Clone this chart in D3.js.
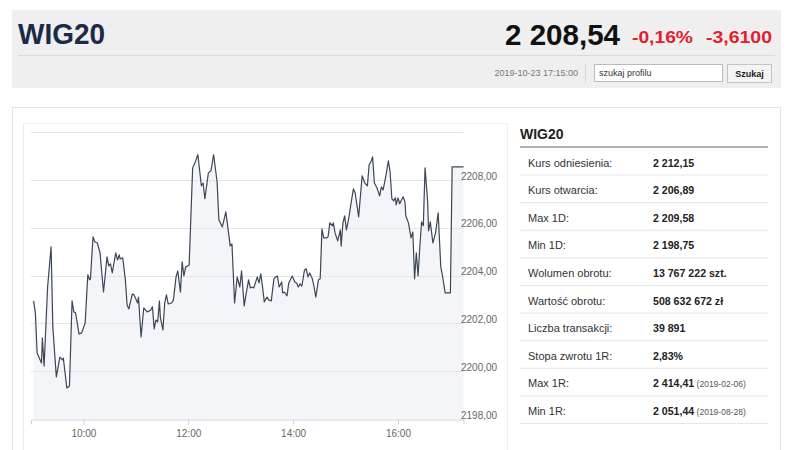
<!DOCTYPE html>
<html>
<head>
<meta charset="utf-8" />
<title>WIG20</title>
<script src="https://cdn.jsdelivr.net/npm/d3@7"></script>
<style>
  body { margin: 0; background: #fff; }
  svg { display: block; font-family: "Liberation Sans", Arial, sans-serif; }
  .axis text { font-size: 10px; fill: #666; }
</style>
</head>
<body>
<script>
// notowania WIG20, 2019-10-23
var times = ["09:03","09:05","09:07","09:12","09:13","09:15","09:19","09:23","09:25","09:29",
  "09:33","09:36","09:37","09:41","09:44","09:47","09:49","09:51","09:55","09:58",
  "10:02","10:05","10:07","10:08","10:11","10:13","10:16","10:19","10:23","10:27",
  "10:29","10:31","10:33","10:37","10:39","10:41","10:42","10:45","10:48","10:50",
  "10:52","10:56","10:58","11:02","11:03","11:06","11:09","11:13","11:17","11:19",
  "11:21","11:23","11:25","11:27","11:28","11:31","11:33","11:35","11:37","11:41",
  "11:43","11:46","11:48","11:51","11:53","11:55","11:57","12:01","12:05","12:08",
  "12:11","12:15","12:17","12:19","12:23","12:26","12:29","12:33","12:35","12:39",
  "12:43","12:48","12:50","12:53","12:56","12:59","13:01","13:04","13:06","13:09",
  "13:11","13:13","13:15","13:19","13:21","13:23","13:25","13:27","13:30","13:32",
  "13:35","13:38","13:40","13:42","13:44","13:47","13:48","13:50","13:53","13:55",
  "13:59","14:02","14:04","14:06","14:08","14:10","14:13","14:15","14:17","14:19",
  "14:22","14:24","14:26","14:29","14:31","14:33","14:35","14:38","14:40","14:42",
  "14:45","14:46","14:48","14:51","14:54","14:55","14:57","14:59","15:01","15:04",
  "15:06","15:09","15:11","15:15","15:19","15:22","15:25","15:27","15:29","15:31",
  "15:33","15:36","15:39","15:41","15:43","15:46","15:49","15:51","15:53","15:55",
  "15:57","15:58","16:00","16:02","16:04","16:06","16:08","16:09","16:12","16:15",
  "16:17","16:19","16:21","16:23","16:25","16:27","16:29","16:31","16:34","16:35",
  "16:37","16:40","16:43","16:46","16:49","16:51","16:54","17:00","17:02","17:15"];

var values = [2202.94,2202.44,2200.76,2200.34,2201.39,2200.22,2203.52,2205.20,2201.85,2199.76,
  2200.59,2200.47,2200.55,2199.30,2199.38,2202.94,2202.48,2202.44,2201.56,2201.60,
  2202.02,2204.03,2203.82,2203.86,2205.62,2205.41,2205.36,2204.95,2203.31,2204.78,
  2204.40,2204.49,2204.11,2204.95,2204.65,2204.86,2204.69,2204.74,2203.82,2202.77,
  2202.60,2203.23,2203.19,2202.85,2203.10,2201.43,2202.64,2202.48,2202.56,2202.69,
  2201.77,2202.14,2202.06,2202.94,2202.27,2201.72,2202.85,2203.19,2202.81,2202.85,
  2202.98,2203.94,2204.19,2203.31,2204.57,2203.98,2204.36,2204.44,2208.50,2208.75,
  2209.05,2207.75,2207.87,2207.21,2208.29,2208.38,2209.05,2207.92,2206.33,2206.03,
  2206.66,2205.24,2205.32,2202.85,2203.94,2203.52,2204.19,2202.73,2203.19,2203.82,
  2203.48,2203.52,2203.48,2203.94,2203.69,2204.07,2203.52,2202.90,2203.10,2202.98,
  2202.94,2203.86,2203.94,2203.98,2203.52,2203.73,2203.27,2203.31,2203.15,2203.69,
  2203.98,2203.73,2203.69,2203.52,2203.65,2203.56,2204.23,2204.28,2203.94,2204.11,
  2203.86,2203.52,2203.10,2203.82,2203.86,2205.95,2205.57,2205.57,2205.62,2206.20,
  2206.08,2206.20,2205.78,2205.45,2205.91,2205.24,2206.20,2206.49,2205.91,2206.45,
  2206.95,2207.62,2207.46,2206.45,2208.17,2207.87,2207.75,2208.63,2208.75,2208.96,
  2207.87,2207.67,2207.33,2207.71,2207.58,2208.13,2208.79,2208.33,2207.21,2207.12,
  2207.25,2206.95,2207.25,2207.00,2207.16,2207.29,2207.08,2206.49,2206.20,2205.57,
  2205.82,2203.86,2204.95,2203.98,2205.20,2206.24,2206.08,2208.50,2207.08,2205.87,
  2206.24,2205.36,2205.78,2206.62,2204.36,2203.98,2203.27,2203.27,2208.54,2208.54];

var yTicks = [2198, 2200, 2202, 2204, 2206, 2208];
var xTicks = ["10:00", "12:00", "14:00", "16:00"];

var statLabels = ["Kurs odniesienia:", "Kurs otwarcia:", "Max 1D:", "Min 1D:", "Wolumen obrotu:",
  "Wartość obrotu:", "Liczba transakcji:", "Stopa zwrotu 1R:", "Max 1R:", "Min 1R:"];
var statValues = ["2 212,15", "2 206,89", "2 209,58", "2 198,75", "13 767 222 szt.",
  "508 632 672 zł", "39 891", "2,83%", "2 414,41", "2 051,44"];
var statDates = ["", "", "", "", "", "", "", "", "(2019-02-06)", "(2019-08-28)"];

var parseTime = d3.timeParse("%H:%M");
var data = times.map(function(t, i) { return { t: parseTime(t), v: values[i] }; });

var svg = d3.select("body").append("svg")
    .attr("width", 786)
    .attr("height", 450);

// ---- naglowek ----
svg.append("rect").attr("x", 12).attr("y", 10).attr("width", 769).attr("height", 78).attr("fill", "#efefef");
svg.append("line").attr("x1", 18).attr("x2", 775).attr("y1", 55.5).attr("y2", 55.5).attr("stroke", "#d9d9d9");

svg.append("text").attr("x", 18).attr("y", 44)
    .attr("font-size", 29).attr("font-weight", "bold").attr("fill", "#1b2a47")
    .attr("textLength", 87).attr("lengthAdjust", "spacingAndGlyphs")
    .text("WIG20");

svg.append("text").attr("x", 620).attr("y", 45).attr("text-anchor", "end")
    .attr("font-size", 29).attr("font-weight", "bold").attr("fill", "#111")
    .attr("textLength", 115).attr("lengthAdjust", "spacingAndGlyphs")
    .text("2 208,54");
svg.append("text").attr("x", 632).attr("y", 43)
    .attr("font-size", 17).attr("font-weight", "bold").attr("fill", "#e2202b")
    .attr("textLength", 61).attr("lengthAdjust", "spacingAndGlyphs")
    .text("-0,16%");
svg.append("text").attr("x", 706).attr("y", 43)
    .attr("font-size", 17).attr("font-weight", "bold").attr("fill", "#e2202b")
    .attr("textLength", 66).attr("lengthAdjust", "spacingAndGlyphs")
    .text("-3,6100");

svg.append("text").attr("x", 578).attr("y", 76).attr("text-anchor", "end")
    .attr("font-size", 9).attr("fill", "#777").text("2019-10-23 17:15:00");
svg.append("line").attr("x1", 585.5).attr("x2", 585.5).attr("y1", 64).attr("y2", 83).attr("stroke", "#d6d6d6");
svg.append("rect").attr("x", 594.5).attr("y", 64.5).attr("width", 128).attr("height", 17)
    .attr("fill", "#fff").attr("stroke", "#bbb");
svg.append("text").attr("x", 599).attr("y", 76).attr("font-size", 9).attr("fill", "#333").text("szukaj profilu");
svg.append("rect").attr("x", 727.5).attr("y", 64.5).attr("width", 44).attr("height", 18)
    .attr("fill", "#f4f4f4").attr("stroke", "#c4c4c4");
svg.append("text").attr("x", 749.5).attr("y", 77).attr("text-anchor", "middle")
    .attr("font-size", 9).attr("font-weight", "bold").attr("fill", "#222").text("Szukaj");

// ---- karta ----
svg.append("rect").attr("x", 12.5).attr("y", 107.5).attr("width", 768).attr("height", 360)
    .attr("fill", "#fff").attr("stroke", "#e4e4e4");
svg.append("rect").attr("x", 23.5).attr("y", 123.5).attr("width", 484).attr("height", 340)
    .attr("fill", "none").attr("stroke", "#eeeeee");

// ---- wykres ----
var x = d3.scaleTime()
    .domain([parseTime("09:00"), parseTime("17:15")])
    .range([31, 463.5]);
var y = d3.scaleLinear()
    .domain([2198, 2210])
    .range([419, 132]);

var area = d3.area()
    .x(function(d) { return x(d.t); })
    .y0(y(2198))
    .y1(function(d) { return y(d.v); });
var line = d3.line()
    .x(function(d) { return x(d.t); })
    .y(function(d) { return y(d.v); });

svg.append("path").datum(data).attr("d", area).attr("fill", "#f3f5f8");

// siatka
svg.append("g")
    .selectAll("line")
    .data(yTicks.slice(1).concat([2210]))
    .enter().append("line")
    .attr("x1", 31).attr("x2", 463.5)
    .attr("y1", function(d) { return Math.round(y(d)) + 0.5; })
    .attr("y2", function(d) { return Math.round(y(d)) + 0.5; })
    .attr("stroke", "#e4e4e4");

svg.append("path").datum(data).attr("d", line)
    .attr("fill", "none").attr("stroke", "#3b4657").attr("stroke-width", 1.2)
    .attr("stroke-linejoin", "round");

// os X
var xAxis = svg.append("g")
    .attr("class", "axis")
    .attr("transform", "translate(0," + (Math.round(y(2198)) + 0.5) + ")")
    .call(d3.axisBottom(x)
      .tickValues(xTicks.map(parseTime))
      .tickFormat(d3.timeFormat("%H:%M"))
      .tickSize(5).tickPadding(5));
xAxis.select(".domain").attr("stroke", "#ccd2da");
xAxis.selectAll(".tick line").attr("stroke", "#ccd2da");

// os Y (etykiety po prawej)
var yAxis = svg.append("g")
    .attr("class", "axis")
    .attr("transform", "translate(461,-4)")
    .call(d3.axisRight(y)
      .tickValues(yTicks)
      .tickFormat(function(d) { return d3.format(".2f")(d).replace(".", ","); })
      .tickSize(0).tickPadding(0));
yAxis.select(".domain").remove();

// ---- tabela ----
svg.append("text").attr("x", 520).attr("y", 139)
    .attr("font-size", 14).attr("font-weight", "bold").attr("fill", "#222").text("WIG20");
svg.append("line").attr("x1", 520).attr("x2", 768).attr("y1", 147).attr("y2", 147)
    .attr("stroke", "#999").attr("stroke-width", 1.5);

var rowH = 27.6, rowTop = 148;
var rows = svg.append("g").selectAll("g")
    .data(statLabels)
    .enter().append("g")
    .attr("transform", function(d, i) { return "translate(0," + (rowTop + i * rowH) + ")"; });

rows.append("line").attr("x1", 520).attr("x2", 768)
    .attr("y1", rowH - 0.5).attr("y2", rowH - 0.5).attr("stroke", "#e6e6e6");
rows.append("text").attr("x", 528).attr("y", 18.5)
    .attr("font-size", 11).attr("fill", "#333")
    .text(function(d) { return d; });
var vals = rows.append("text").attr("x", 653).attr("y", 18.5)
    .attr("font-size", 10.6).attr("font-weight", "bold").attr("fill", "#222");
vals.append("tspan").text(function(d, i) { return statValues[i]; });
vals.append("tspan").attr("font-size", 8.5).attr("font-weight", "normal").attr("fill", "#555")
    .text(function(d, i) { return statDates[i] ? " " + statDates[i] : ""; });
</script>
</body>
</html>
